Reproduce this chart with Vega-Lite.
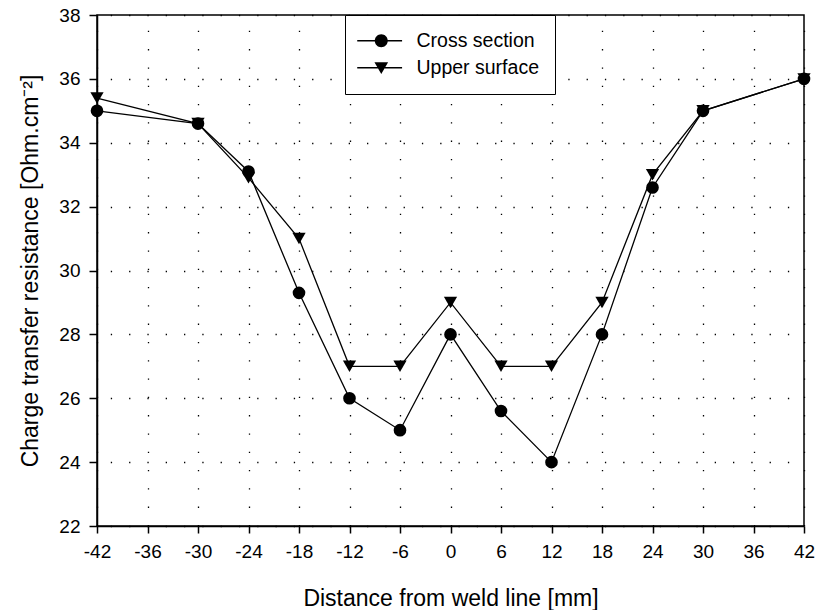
{
  "$schema": "https://vega.github.io/schema/vega-lite/v6.json",
  "width": 707,
  "height": 511,
  "autosize": "none",
  "padding": {"left": 97, "top": 15, "right": 13, "bottom": 84},
  "background": "white",
  "config": {
    "font": "Liberation Sans",
    "view": {"stroke": "black", "strokeWidth": 1.5},
    "axis": {
      "labelFont": "Liberation Sans",
      "titleFont": "Liberation Sans",
      "labelColor": "black",
      "titleColor": "black",
      "domainColor": "black",
      "domainWidth": 1.5,
      "tickColor": "black",
      "tickWidth": 1.5,
      "labelFontSize": 19,
      "titleFontSize": 23,
      "titleFontWeight": "normal",
      "grid": true,
      "gridColor": "black",
      "gridWidth": 1.3,
      "gridDash": [1.3, 17],
      "gridOpacity": 1
    },
    "legend": {
      "labelFont": "Liberation Sans"
    }
  },
  "data": {
    "values": [
      {"x": -42, "y": 35.4, "series": "Upper surface"},
      {"x": -30, "y": 34.6, "series": "Upper surface"},
      {"x": -24, "y": 32.9, "series": "Upper surface"},
      {"x": -18, "y": 31.0, "series": "Upper surface"},
      {"x": -12, "y": 27.0, "series": "Upper surface"},
      {"x": -6, "y": 27.0, "series": "Upper surface"},
      {"x": 0, "y": 29.0, "series": "Upper surface"},
      {"x": 6, "y": 27.0, "series": "Upper surface"},
      {"x": 12, "y": 27.0, "series": "Upper surface"},
      {"x": 18, "y": 29.0, "series": "Upper surface"},
      {"x": 24, "y": 33.0, "series": "Upper surface"},
      {"x": 30, "y": 35.0, "series": "Upper surface"},
      {"x": 42, "y": 36.0, "series": "Upper surface"},
      {"x": -42, "y": 35.0, "series": "Cross section"},
      {"x": -30, "y": 34.6, "series": "Cross section"},
      {"x": -24, "y": 33.1, "series": "Cross section"},
      {"x": -18, "y": 29.3, "series": "Cross section"},
      {"x": -12, "y": 26.0, "series": "Cross section"},
      {"x": -6, "y": 25.0, "series": "Cross section"},
      {"x": 0, "y": 28.0, "series": "Cross section"},
      {"x": 6, "y": 25.6, "series": "Cross section"},
      {"x": 12, "y": 24.0, "series": "Cross section"},
      {"x": 18, "y": 28.0, "series": "Cross section"},
      {"x": 24, "y": 32.6, "series": "Cross section"},
      {"x": 30, "y": 35.0, "series": "Cross section"},
      {"x": 42, "y": 36.0, "series": "Cross section"}
    ]
  },
  "encoding": {
    "x": {
      "field": "x",
      "type": "quantitative",
      "scale": {"domain": [-42, 42], "nice": false, "zero": false},
      "axis": {
        "title": "Distance from weld line [mm]",
        "values": [-42, -36, -30, -24, -18, -12, -6, 0, 6, 12, 18, 24, 30, 36, 42],
        "labelExpr": "datum.value < 0 ? '-' + abs(datum.value) : '' + datum.value",
        "tickSize": 7,
        "labelPadding": 9,
        "titlePadding": 26,
        "labelFlush": false,
        "gridDashOffset": 3
      }
    },
    "y": {
      "field": "y",
      "type": "quantitative",
      "scale": {"domain": [22, 38], "nice": false, "zero": false},
      "axis": {
        "title": "Charge transfer resistance [Ohm.cm⁻²]",
        "values": [22, 24, 26, 28, 30, 32, 34, 36, 38],
        "tickSize": 8,
        "labelPadding": 9,
        "titlePadding": 16,
        "labelFlush": false,
        "gridDashOffset": 5
      }
    }
  },
  "layer": [
    {
      "mark": {"type": "line", "color": "black", "strokeWidth": 1.3},
      "encoding": {"detail": {"field": "series"}, "order": {"field": "x"}}
    },
    {
      "mark": {"type": "point", "filled": true, "color": "black", "opacity": 1},
      "encoding": {
        "shape": {
          "field": "series",
          "type": "nominal",
          "scale": {"domain": ["Cross section", "Upper surface"], "range": ["circle", "triangle-down"]},
          "legend": null
        },
        "size": {
          "field": "series",
          "type": "nominal",
          "scale": {"domain": ["Cross section", "Upper surface"], "range": [160, 175]},
          "legend": null
        }
      }
    },
    {
      "mark": {"type": "point", "filled": true, "color": "black", "opacity": 0, "size": 169},
      "encoding": {
        "shape": {
          "field": "series",
          "type": "nominal",
          "scale": {
            "domain": ["Cross section", "Upper surface"],
            "range": [
              "M-2.08,-0.1H0.66V0.1H-2.08ZM2.58,-0.1H4.82V0.1H2.58ZM0.62,0A1,1 0 1,1 2.62,0A1,1 0 1,1 0.62,0Z",
              "M-2.08,-0.1H1.1V0.1H-2.08ZM2.14,-0.1H4.82V0.1H2.14ZM0.57,-0.85L2.67,-0.85L1.62,0.95Z"
            ]
          },
          "legend": {
            "title": null,
            "orient": "none",
            "legendX": 248,
            "legendY": 0,
            "padding": 16,
            "strokeColor": "black",
            "fillColor": "white",
            "labelFontSize": 19.5,
            "labelColor": "black",
            "labelOffset": 36,
            "rowPadding": 6,
            "symbolSize": 169,
            "symbolFillColor": "black",
            "symbolStrokeWidth": 0,
            "symbolOpacity": 1
          }
        }
      }
    }
  ],
  "resolve": {"scale": {"shape": "independent", "size": "independent"}, "legend": {"shape": "independent", "size": "independent"}}
}
